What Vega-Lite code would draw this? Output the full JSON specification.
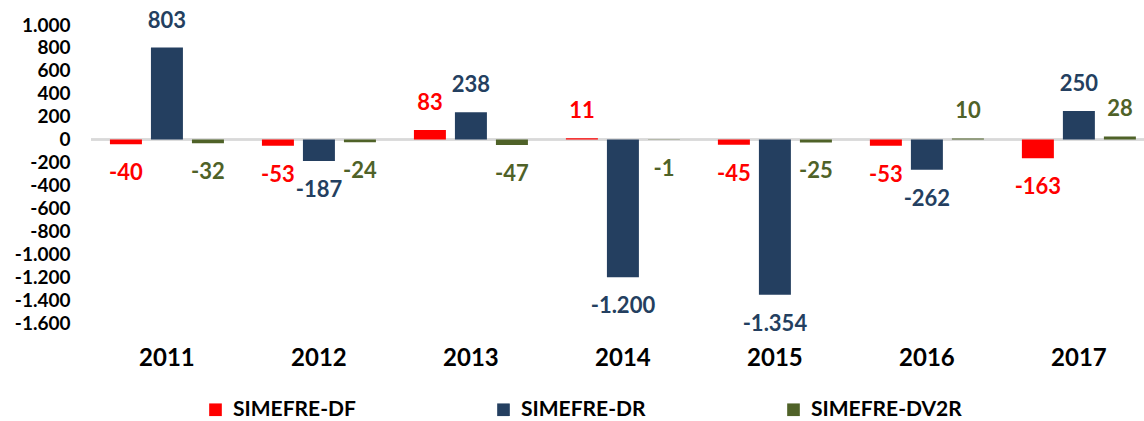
{
  "$schema": "https://vega.github.io/schema/vega-lite/v6.json",
  "autosize": "none",
  "width": 1053,
  "height": 298,
  "padding": {"left": 91, "top": 25, "right": 0, "bottom": 98},
  "background": "white",
  "config": {
    "locale": {"number": {"decimal": ",", "thousands": ".", "grouping": [3], "currency": ["", "€"], "minus": "-"}},
    "view": {"stroke": null},
    "font": "Lato"
  },
  "data": {"values": [
    {"year": "2011", "series": "SIMEFRE-DF", "value": -40},
    {"year": "2011", "series": "SIMEFRE-DR", "value": 803},
    {"year": "2011", "series": "SIMEFRE-DV2R", "value": -32},
    {"year": "2012", "series": "SIMEFRE-DF", "value": -53},
    {"year": "2012", "series": "SIMEFRE-DR", "value": -187},
    {"year": "2012", "series": "SIMEFRE-DV2R", "value": -24},
    {"year": "2013", "series": "SIMEFRE-DF", "value": 83},
    {"year": "2013", "series": "SIMEFRE-DR", "value": 238},
    {"year": "2013", "series": "SIMEFRE-DV2R", "value": -47},
    {"year": "2014", "series": "SIMEFRE-DF", "value": 11},
    {"year": "2014", "series": "SIMEFRE-DR", "value": -1200},
    {"year": "2014", "series": "SIMEFRE-DV2R", "value": -1},
    {"year": "2015", "series": "SIMEFRE-DF", "value": -45},
    {"year": "2015", "series": "SIMEFRE-DR", "value": -1354},
    {"year": "2015", "series": "SIMEFRE-DV2R", "value": -25},
    {"year": "2016", "series": "SIMEFRE-DF", "value": -53},
    {"year": "2016", "series": "SIMEFRE-DR", "value": -262},
    {"year": "2016", "series": "SIMEFRE-DV2R", "value": 10},
    {"year": "2017", "series": "SIMEFRE-DF", "value": -163},
    {"year": "2017", "series": "SIMEFRE-DR", "value": 250},
    {"year": "2017", "series": "SIMEFRE-DV2R", "value": 28}
  ]},
  "encoding": {
    "x": {
      "field": "year", "type": "nominal",
      "scale": {"paddingInner": 0.25, "paddingOuter": 0.089, "align": 0.7},
      "axis": {"title": null, "labelAngle": 0, "domain": false, "ticks": false, "labelPadding": 23, "labelFont": "Lato", "labelFontWeight": "bold", "labelFontSize": 24, "labelColor": "#000000"}
    },
    "xOffset": {
      "field": "series", "type": "nominal",
      "sort": ["SIMEFRE-DF", "SIMEFRE-DR", "SIMEFRE-DV2R"],
      "scale": {"paddingInner": 0.22, "paddingOuter": 0}
    },
    "y": {
      "field": "value", "type": "quantitative",
      "scale": {"domain": [-1600, 1000], "nice": false, "zero": true},
      "axis": {"title": null, "grid": false, "domain": false, "ticks": false, "labelPadding": 21, "format": ",d",
        "values": [-1600, -1400, -1200, -1000, -800, -600, -400, -200, 0, 200, 400, 600, 800, 1000],
        "labelFont": "Lato", "labelFontWeight": "bold", "labelFontSize": 19, "labelColor": "#000000"}
    },
    "color": {
      "field": "series", "type": "nominal",
      "scale": {"domain": ["SIMEFRE-DF", "SIMEFRE-DR", "SIMEFRE-DV2R"], "range": ["#FF0000", "#243F60", "#4F6228"]},
      "legend": {
        "title": null, "orient": "none", "legendX": 114, "legendY": 374, "direction": "horizontal",
        "symbolType": "square", "symbolSize": 160, "symbolStrokeWidth": 0, "symbolOpacity": 1,
        "labelFont": "Lato", "labelFontWeight": "bold", "labelFontSize": 21, "labelColor": "#000000",
        "labelOffset": 7, "columnPadding": 137
      }
    }
  },
  "layer": [
    {
      "mark": {"type": "rule", "color": "#D9D9D9", "strokeWidth": 1.5},
      "encoding": {"y": {"datum": 0}, "x": null, "xOffset": null, "color": null}
    },
    {
      "mark": {"type": "bar", "opacity": 1}
    },
    {
      "transform": [{"filter": "datum.value >= 0"}],
      "mark": {"type": "text", "dy": -27, "baseline": "middle", "align": "center", "fontSize": 22, "fontWeight": "bold", "font": "Lato"},
      "encoding": {"text": {"field": "value", "type": "quantitative", "format": ",d"}}
    },
    {
      "transform": [{"filter": "datum.value < 0"}],
      "mark": {"type": "text", "dy": 29, "baseline": "middle", "align": "center", "fontSize": 22, "fontWeight": "bold", "font": "Lato"},
      "encoding": {"text": {"field": "value", "type": "quantitative", "format": ",d"}}
    }
  ]
}
